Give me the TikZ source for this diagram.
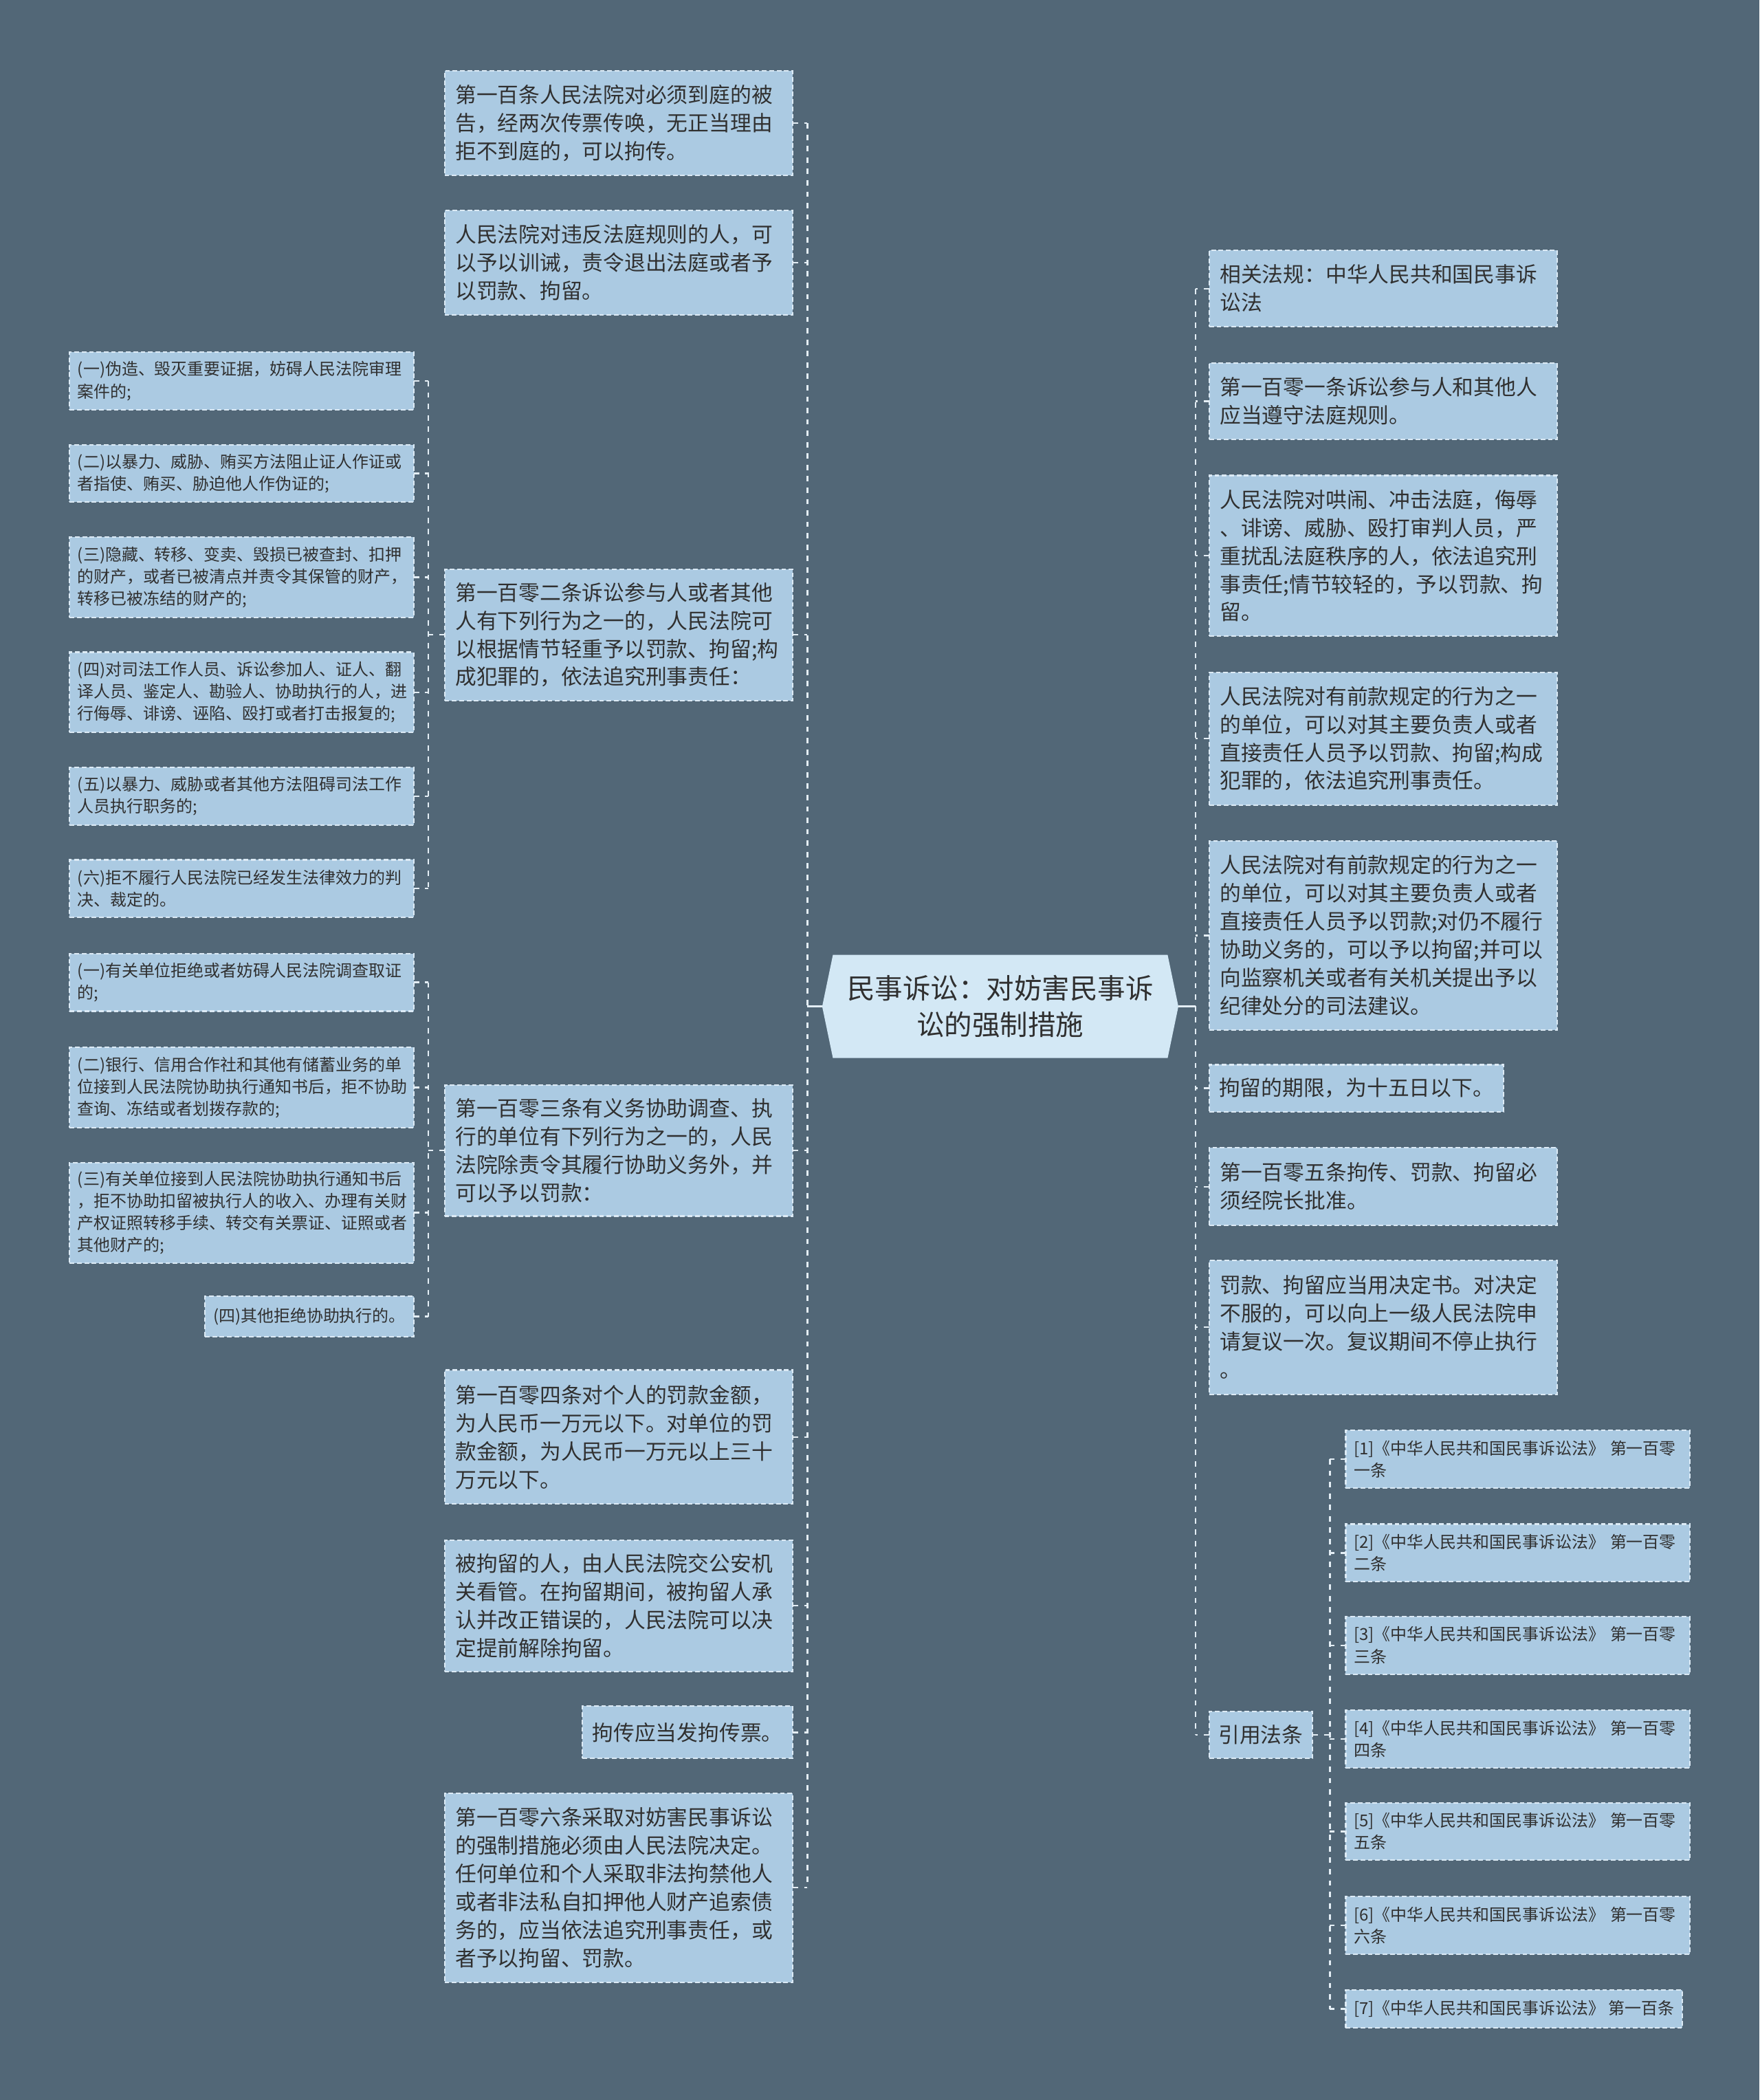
\documentclass[tikz,border=0pt]{standalone}
\usepackage{fontspec}
\setmainfont{Noto Sans CJK SC}
\usetikzlibrary{backgrounds,calc}
\definecolor{bgcol}{HTML}{526777}
\definecolor{boxfill}{HTML}{ABCAE2}
\definecolor{boxline}{HTML}{DCEAF5}
\definecolor{conncol}{HTML}{E4EEF5}
\definecolor{rootfill}{HTML}{D3E8F5}
\definecolor{txt}{HTML}{303030}
\newcommand{\mainfs}{\fontsize{15.8pt}{21pt}\selectfont}
\newcommand{\smallfs}{\fontsize{12.3pt}{16.5pt}\selectfont}
\newcommand{\rootfs}{\fontsize{20.8pt}{27pt}\selectfont}
\begin{document}
\begin{tikzpicture}[x=1pt,y=-1pt,
  boxbase/.style={draw=boxline, line width=1.1pt, dash pattern=on 3.5pt off 2pt, fill=boxfill, text=txt, anchor=north west, align=left, inner ysep=0pt, outer sep=0pt},
  mainbox/.style={boxbase, font=\mainfs, inner xsep=8pt, text width=244pt},
  mainone/.style={boxbase, font=\mainfs, inner xsep=7pt},
  subbox/.style={boxbase, font=\smallfs, inner xsep=6pt, text width=245pt},
  subone/.style={boxbase, font=\smallfs, inner xsep=6pt},
  conn/.style={draw=conncol, line width=1.2pt, dash pattern=on 4pt off 4.5pt},
  rootline/.style={draw=conncol, line width=1.6pt},
  rootnode/.style={font=\rootfs, text=txt, align=center, minimum width=266pt, minimum height=77pt, inner sep=0pt, outer sep=0pt}]
\useasboundingbox (0,0) rectangle (1314,1568);

% root
\node[rootnode] (root) at (747,751.5) {民事诉讼：对妨害民事诉\\讼的强制措施};
\begin{scope}[on background layer]
  \fill[bgcol] (0,0) rectangle (1314,1568);
  \fill[rootfill] ($(root.north west)+(8,0)$) -- ($(root.north east)+(-8,0)$) -- (root.east) -- ($(root.south east)+(-8,0)$) -- ($(root.south west)+(8,0)$) -- (root.west) -- cycle;
\end{scope}

% left main boxes
\node[mainbox, minimum height=78pt] (L1) at (332,53) {第一百条人民法院对必须到庭的被\\告，经两次传票传唤，无正当理由\\拒不到庭的，可以拘传。};
\node[mainbox, minimum height=78pt] (L2) at (332,157) {人民法院对违反法庭规则的人，可\\以予以训诫，责令退出法庭或者予\\以罚款、拘留。};
\node[mainbox, minimum height=98pt] (L3) at (332,425) {第一百零二条诉讼参与人或者其他\\人有下列行为之一的，人民法院可\\以根据情节轻重予以罚款、拘留;构\\成犯罪的，依法追究刑事责任：};
\node[mainbox, minimum height=98pt] (L4) at (332,810) {第一百零三条有义务协助调查、执\\行的单位有下列行为之一的，人民\\法院除责令其履行协助义务外，并\\可以予以罚款：};
\node[mainbox, minimum height=100pt] (L5) at (332,1023) {第一百零四条对个人的罚款金额，\\为人民币一万元以下。对单位的罚\\款金额，为人民币一万元以上三十\\万元以下。};
\node[mainbox, minimum height=98pt] (L6) at (332,1150) {被拘留的人，由人民法院交公安机\\关看管。在拘留期间，被拘留人承\\认并改正错误的，人民法院可以决\\定提前解除拘留。};
\node[mainone, minimum height=39pt, minimum width=157pt] (L7) at (435,1274) {拘传应当发拘传票。};
\node[mainbox, minimum height=141pt] (L8) at (332,1339) {第一百零六条采取对妨害民事诉讼\\的强制措施必须由人民法院决定。\\任何单位和个人采取非法拘禁他人\\或者非法私自扣押他人财产追索债\\务的，应当依法追究刑事责任，或\\者予以拘留、罚款。};

% children of L3
\node[subbox, minimum height=43pt] (C1) at (52,263) {(一)伪造、毁灭重要证据，妨碍人民法院审理\\案件的;};
\node[subbox, minimum height=43pt] (C2) at (52,332) {(二)以暴力、威胁、贿买方法阻止证人作证或\\者指使、贿买、胁迫他人作伪证的;};
\node[subbox, minimum height=60pt] (C3) at (52,401) {(三)隐藏、转移、变卖、毁损已被查封、扣押\\的财产，或者已被清点并责令其保管的财产，\\转移已被冻结的财产的;};
\node[subbox, minimum height=60pt] (C4) at (52,487) {(四)对司法工作人员、诉讼参加人、证人、翻\\译人员、鉴定人、勘验人、协助执行的人，进\\行侮辱、诽谤、诬陷、殴打或者打击报复的;};
\node[subbox, minimum height=43pt] (C5) at (52,573) {(五)以暴力、威胁或者其他方法阻碍司法工作\\人员执行职务的;};
\node[subbox, minimum height=43pt] (C6) at (52,642) {(六)拒不履行人民法院已经发生法律效力的判\\决、裁定的。};

% children of L4
\node[subbox, minimum height=43pt] (D1) at (52,712) {(一)有关单位拒绝或者妨碍人民法院调查取证\\的;};
\node[subbox, minimum height=60pt] (D2) at (52,782) {(二)银行、信用合作社和其他有储蓄业务的单\\位接到人民法院协助执行通知书后，拒不协助\\查询、冻结或者划拨存款的;};
\node[subbox, minimum height=75pt] (D3) at (52,868) {(三)有关单位接到人民法院协助执行通知书后\\，拒不协助扣留被执行人的收入、办理有关财\\产权证照转移手续、转交有关票证、证照或者\\其他财产的;};
\node[subone, minimum height=30pt, minimum width=156pt] (D4) at (153,968) {(四)其他拒绝协助执行的。};

% right boxes
\node[mainbox, minimum height=57pt] (R1) at (903,187) {相关法规：中华人民共和国民事诉\\讼法};
\node[mainbox, minimum height=57pt] (R2) at (903,271) {第一百零一条诉讼参与人和其他人\\应当遵守法庭规则。};
\node[mainbox, minimum height=120pt] (R3) at (903,355) {人民法院对哄闹、冲击法庭，侮辱\\、诽谤、威胁、殴打审判人员，严\\重扰乱法庭秩序的人，依法追究刑\\事责任;情节较轻的，予以罚款、拘\\留。};
\node[mainbox, minimum height=99pt] (R4) at (903,502) {人民法院对有前款规定的行为之一\\的单位，可以对其主要负责人或者\\直接责任人员予以罚款、拘留;构成\\犯罪的，依法追究刑事责任。};
\node[mainbox, minimum height=141pt] (R5) at (903,628) {人民法院对有前款规定的行为之一\\的单位，可以对其主要负责人或者\\直接责任人员予以罚款;对仍不履行\\协助义务的，可以予以拘留;并可以\\向监察机关或者有关机关提出予以\\纪律处分的司法建议。};
\node[mainone, minimum height=35pt, minimum width=220pt] (R6) at (903,795) {拘留的期限，为十五日以下。};
\node[mainbox, minimum height=58pt] (R7) at (903,857) {第一百零五条拘传、罚款、拘留必\\须经院长批准。};
\node[mainbox, minimum height=100pt] (R8) at (903,941) {罚款、拘留应当用决定书。对决定\\不服的，可以向上一级人民法院申\\请复议一次。复议期间不停止执行\\。};
\node[mainone, minimum height=35pt, minimum width=77pt] (R9) at (903,1278) {引用法条};

% citations
\node[subbox, minimum height=43pt] (Q1) at (1005,1068) {[1]《中华人民共和国民事诉讼法》 第一百零\\一条};
\node[subbox, minimum height=43pt] (Q2) at (1005,1138) {[2]《中华人民共和国民事诉讼法》 第一百零\\二条};
\node[subbox, minimum height=43pt] (Q3) at (1005,1207) {[3]《中华人民共和国民事诉讼法》 第一百零\\三条};
\node[subbox, minimum height=43pt] (Q4) at (1005,1277) {[4]《中华人民共和国民事诉讼法》 第一百零\\四条};
\node[subbox, minimum height=43pt] (Q5) at (1005,1346) {[5]《中华人民共和国民事诉讼法》 第一百零\\五条};
\node[subbox, minimum height=43pt] (Q6) at (1005,1416) {[6]《中华人民共和国民事诉讼法》 第一百零\\六条};
\node[subone, minimum height=28pt, minimum width=250pt] (Q7) at (1005,1486) {[7]《中华人民共和国民事诉讼法》 第一百条};

% root connectors
\coordinate (ls) at (603,751.5);
\coordinate (rs) at (893,751.5);
\draw[rootline] (root.west) -- (ls);
\draw[rootline] (root.east) -- (rs);
\draw[conn] (ls |- L1.east) -- (ls |- L8.east);
\draw[conn] (rs |- R1.west) -- (rs |- R9.west);
\foreach \n in {L1,L2,L3,L4,L5,L6,L7,L8} \draw[conn] (\n.east) -- (ls |- \n.east);
\foreach \n in {R1,R2,R3,R4,R5,R6,R7,R8,R9} \draw[conn] (\n.west) -- (rs |- \n.west);

% L3 children
\coordinate (s3) at ($(L3.west)+(-12,0)$);
\draw[conn] (L3.west) -- (s3);
\draw[conn] (s3 |- C1.east) -- (s3 |- C6.east);
\foreach \n in {C1,C2,C3,C4,C5,C6} \draw[conn] (\n.east) -- (s3 |- \n.east);

% L4 children
\coordinate (s4) at ($(L4.west)+(-12,0)$);
\draw[conn] (L4.west) -- (s4);
\draw[conn] (s4 |- D1.east) -- (s4 |- D4.east);
\foreach \n in {D1,D2,D3,D4} \draw[conn] (\n.east) -- (s4 |- \n.east);

% citations
\coordinate (s9) at ($(R9.east)+(13,0)$);
\draw[conn] (R9.east) -- (s9);
\draw[conn] (s9 |- Q1.west) -- (s9 |- Q7.west);
\foreach \n in {Q1,Q2,Q3,Q4,Q5,Q6,Q7} \draw[conn] (\n.west) -- (s9 |- \n.west);
\end{tikzpicture}
\end{document}
